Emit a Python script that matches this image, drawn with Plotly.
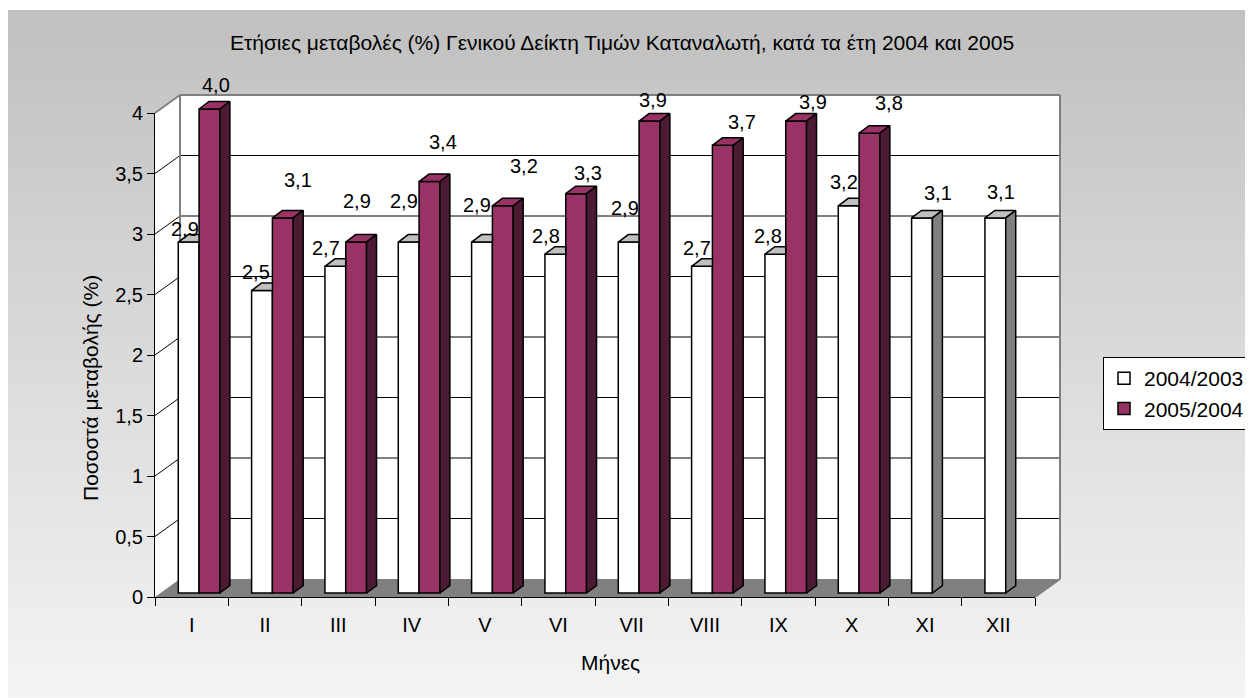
import plotly.graph_objects as go

# ---------------- data ----------------
months = ["I", "II", "III", "IV", "V", "VI", "VII", "VIII", "IX", "X", "XI", "XII"]
series_names = ["2004/2003", "2005/2004"]
vals_2004_2003 = [2.9, 2.5, 2.7, 2.9, 2.9, 2.8, 2.9, 2.7, 2.8, 3.2, 3.1, 3.1]
vals_2005_2004 = [4.0, 3.1, 2.9, 3.4, 3.2, 3.3, 3.9, 3.7, 3.9, 3.8, None, None]
y_max = 4
y_step = 0.5

title_text = "Ετήσιες μεταβολές (%) Γενικού Δείκτη Τιμών Καταναλωτή, κατά τα έτη 2004 και 2005"
x_title = "Μήνες"
y_title = "Ποσοστά μεταβολής (%)"

# ---------------- layout geometry (page pixels) ----------------
PAGE_MARGIN = 8                      # default body margin of the html page
W, H = 1253 - PAGE_MARGIN, 698 - PAGE_MARGIN
PX_L, PX_R = 155, 1035       # front plane x extent
PY_0, PY_TOP = 597, 113      # front plane pixel of 0 and of y_max
U = (PX_R - PX_L) / len(months)   # px per category
V = (PY_0 - PY_TOP) / y_max       # px per unit value
LIFT = 4                     # bar plane above front plane (px)
WALL_DX, WALL_DY = 25, 18    # depth of the walls (px)
BAR_DX, BAR_DY = 10, 7.5     # depth of the bars (px)
BAR_W_PX = 20.8
BAR_OFF_PX = -13.4

FONT_TITLE = 21
FONT_TICK = 20
FONT_LABEL = 20
FONT_AXTITLE = 21
FONT_LEGEND = 21


def fx(px):
    return (px - PAGE_MARGIN) / W


def fy(py):
    return 1 - (py - PAGE_MARGIN) / H


# drawing subplot domain in page px
D_X0, D_X1 = 150, 1075
D_Y0, D_Y1 = 602, 60
xr = [-0.5 - (PX_L - D_X0) / U, -0.5 + (D_X1 - PX_L) / U]
yr = [(PY_0 - LIFT - D_Y0) / V, (PY_0 - LIFT - D_Y1) / V]

L = LIFT / V
WX = WALL_DX / U
WB = (WALL_DY - LIFT) / V
BDX = BAR_DX / U
BDY = BAR_DY / V
BW = BAR_W_PX / U
BOFF = BAR_OFF_PX / U

# colours
WHITE_FRONT, WHITE_TOP, WHITE_SIDE = "#ffffff", "#c0c0c0", "#808080"
PURPLE_FRONT, PURPLE_TOP, PURPLE_SIDE = "#993366", "#993366", "#4d1a33"
WALL_EDGE = "#808080"
FLOOR = "#808080"

# label nudges (px) relative to the top-centre of each bar front
nudge_w_dx = [-4, -6, -9, -5, -5, -9, -4, -5, -7, -5, 16, 6]
nudge_w_dy = [13, 19, 18, 41, 37, 18, 34, 18, 18, 24, 25, 26]
nudge_p_dx = [7, 15, 1, 14, 21, 12, 4, 19, 17, 20, 0, 0]
nudge_p_dy = [24, 38, 41, 40, 40, 21, 21, 23, 19, 30, 0, 0]

fig = go.Figure()

# ---------------- background gradient ----------------
shapes = []
N = 120
top_py, bot_py = 10, 698
c0, c1 = 192, 244
for k in range(N):
    p0 = top_py + (bot_py - top_py) * k / N
    p1 = top_py + (bot_py - top_py) * (k + 1) / N + 1
    c = round(c0 + (c1 - c0) * (k + 0.5) / N)
    shapes.append(dict(type="rect", xref="paper", yref="paper", x0=fx(8), x1=1,
                       y0=max(fy(p1), 0), y1=fy(p0), line=dict(width=0),
                       fillcolor=f"rgb({c},{c},{c})", layer="below"))


def path(pts):
    return "M " + " L ".join(f"{x},{y}" for x, y in pts) + " Z"


x_first, x_last = -0.5, len(months) - 0.5
# side wall
shapes.append(dict(type="path", xref="x", yref="y", layer="below",
                   path=path([(x_first, -L), (x_first, y_max - L), (x_first + WX, y_max + WB), (x_first + WX, WB)]),
                   fillcolor="white", line=dict(width=0)))
# back wall
shapes.append(dict(type="rect", xref="x", yref="y", layer="below",
                   x0=x_first + WX, x1=x_last + WX, y0=WB, y1=y_max + WB,
                   fillcolor="white", line=dict(width=0)))
# floor
shapes.append(dict(type="path", xref="x", yref="y", layer="below",
                   path=path([(x_first, -L), (x_last, -L), (x_last + WX, WB), (x_first + WX, WB)]),
                   fillcolor=FLOOR, line=dict(width=0)))
# grid lines (back wall + side wall)
n_steps = int(round(y_max / y_step))
for k in range(1, n_steps):
    v = k * y_step
    shapes.append(dict(type="line", xref="x", yref="y", layer="below",
                       x0=x_first + WX, x1=x_last + WX, y0=v + WB, y1=v + WB,
                       line=dict(color="black", width=1)))
    shapes.append(dict(type="line", xref="x", yref="y", layer="below",
                       x0=x_first, x1=x_first + WX, y0=v - L, y1=v + WB,
                       line=dict(color="black", width=1)))
# wall edges
edges = [
    ((x_first, y_max - L), (x_first + WX, y_max + WB)),
    ((x_first + WX, y_max + WB), (x_last + WX, y_max + WB)),
    ((x_last + WX, y_max + WB), (x_last + WX, WB)),
    ((x_first + WX, WB), (x_first + WX, y_max + WB)),
    ((x_last, -L), (x_last + WX, WB)),
]
for (a, b) in edges:
    shapes.append(dict(type="line", xref="x", yref="y", layer="below",
                       x0=a[0], y0=a[1], x1=b[0], y1=b[1],
                       line=dict(color=WALL_EDGE, width=2)))

# ---------------- bars (front faces) ----------------
xs = list(range(len(months)))
fig.add_trace(go.Bar(x=xs, y=vals_2004_2003, width=BW, offset=BOFF, name=series_names[0],
                     marker=dict(color=WHITE_FRONT, line=dict(color="black", width=1.5)),
                     xaxis="x", yaxis="y", hoverinfo="skip"))
fig.add_trace(go.Bar(x=xs, y=vals_2005_2004, width=BW, offset=BOFF + BW, name=series_names[1],
                     marker=dict(color=PURPLE_FRONT, line=dict(color="black", width=1.5)),
                     xaxis="x", yaxis="y", hoverinfo="skip"))


# ---------------- 3D faces ----------------
def add_poly(polys, color):
    px, py = [], []
    for poly in polys:
        for (a, b) in poly + [poly[0]]:
            px.append(a)
            py.append(b)
        px.append(None)
        py.append(None)
    fig.add_trace(go.Scatter(x=px, y=py, mode="lines", fill="toself", fillcolor=color,
                             line=dict(color="black", width=1.5), showlegend=False,
                             hoverinfo="skip", xaxis="x", yaxis="y"))


w_tops, w_sides, p_tops, p_sides = [], [], [], []
for i, (vw, vp) in enumerate(zip(vals_2004_2003, vals_2005_2004)):
    xl = i + BOFF
    xrgt = xl + BW
    if vw is not None:
        if vp is not None and vp >= vw:
            w_tops.append([(xl, vw), (xrgt, vw), (xrgt, vw + BDY), (xl + BDX, vw + BDY)])
        else:
            w_tops.append([(xl, vw), (xrgt, vw), (xrgt + BDX, vw + BDY), (xl + BDX, vw + BDY)])
            w_sides.append([(xrgt, 0), (xrgt, vw), (xrgt + BDX, vw + BDY), (xrgt + BDX, BDY)])
    if vp is not None:
        pl = xrgt
        pr = pl + BW
        p_tops.append([(pl, vp), (pr, vp), (pr + BDX, vp + BDY), (pl + BDX, vp + BDY)])
        p_sides.append([(pr, 0), (pr, vp), (pr + BDX, vp + BDY), (pr + BDX, BDY)])

add_poly(w_tops, WHITE_TOP)
add_poly(w_sides, WHITE_SIDE)
add_poly(p_tops, PURPLE_TOP)
add_poly(p_sides, PURPLE_SIDE)


# ---------------- value labels ----------------
def fmt(v):
    return f"{v:.1f}".replace(".", ",")


annotations = []
for i, v in enumerate(vals_2004_2003):
    if v is None:
        continue
    annotations.append(dict(x=i + BOFF + BW / 2, y=v, xref="x", yref="y", text=fmt(v),
                            showarrow=False, xanchor="center", yanchor="middle",
                            xshift=nudge_w_dx[i], yshift=nudge_w_dy[i],
                            font=dict(size=FONT_LABEL, color="black")))
for i, v in enumerate(vals_2005_2004):
    if v is None:
        continue
    annotations.append(dict(x=i + BOFF + 1.5 * BW, y=v, xref="x", yref="y", text=fmt(v),
                            showarrow=False, xanchor="center", yanchor="middle",
                            xshift=nudge_p_dx[i], yshift=nudge_p_dy[i],
                            font=dict(size=FONT_LABEL, color="black")))
annotations.append(dict(x=fx(610), y=fy(662), xref="paper", yref="paper", text=x_title,
                        showarrow=False, xanchor="center", yanchor="middle",
                        font=dict(size=FONT_AXTITLE, color="black")))
annotations.append(dict(x=fx(90), y=fy(388), xref="paper", yref="paper", text=y_title,
                        showarrow=False, xanchor="center", yanchor="middle", textangle=-90,
                        font=dict(size=FONT_AXTITLE, color="black")))

# dummy trace for the front-plane axes
fig.add_trace(go.Scatter(x=[None], y=[None], xaxis="x2", yaxis="y2", showlegend=False,
                         hoverinfo="skip"))

y_ticks = [k * y_step for k in range(n_steps + 1)]

fig.update_layout(
    width=W, height=H,
    margin=dict(l=0, r=0, t=0, b=0, autoexpand=False),
    paper_bgcolor="white",
    plot_bgcolor="rgba(0,0,0,0)",
    separators=",.",
    font=dict(family="Arial, Liberation Sans, sans-serif", size=FONT_TICK, color="black"),
    barmode="overlay",
    title=dict(text=title_text, x=fx(622), y=fy(43), xanchor="center", yanchor="middle",
               xref="paper", yref="paper", font=dict(size=FONT_TITLE, color="black")),
    xaxis=dict(domain=[fx(D_X0), fx(D_X1)], range=xr, visible=False, fixedrange=True),
    yaxis=dict(domain=[fy(D_Y0), fy(D_Y1)], range=yr, visible=False, fixedrange=True),
    xaxis2=dict(domain=[fx(PX_L), fx(PX_R)], range=[x_first, x_last], anchor="y2",
                tickmode="array", tickvals=xs, ticktext=months,
                ticks="outside", ticklen=10, tickcolor="rgba(0,0,0,0)",
                showline=True, linecolor="black", linewidth=1,
                showgrid=False, zeroline=False, fixedrange=True,
                tickfont=dict(size=FONT_TICK, color="black"),
                minor=dict(tickmode="array", tickvals=[i - 0.5 for i in range(len(months) + 1)],
                           ticks="outside", ticklen=8, tickcolor="black", tickwidth=1,
                           showgrid=False)),
    yaxis2=dict(domain=[fy(PY_0), fy(PY_TOP)], range=[0, y_max], anchor="x2",
                tickmode="array", tickvals=y_ticks,
                ticks="outside", ticklen=7, tickcolor="black",
                showline=True, linecolor="black", linewidth=1,
                showgrid=False, zeroline=False, fixedrange=True,
                tickfont=dict(size=FONT_TICK, color="black")),
    legend=dict(x=fx(1250), y=fy(357), xanchor="right", yanchor="top",
                bgcolor="white", bordercolor="black", borderwidth=1,
                font=dict(size=FONT_LEGEND, color="black"), itemwidth=30, tracegroupgap=0,
                traceorder="normal"),
    shapes=shapes,
    annotations=annotations,
)

fig.write_html("out.html")
